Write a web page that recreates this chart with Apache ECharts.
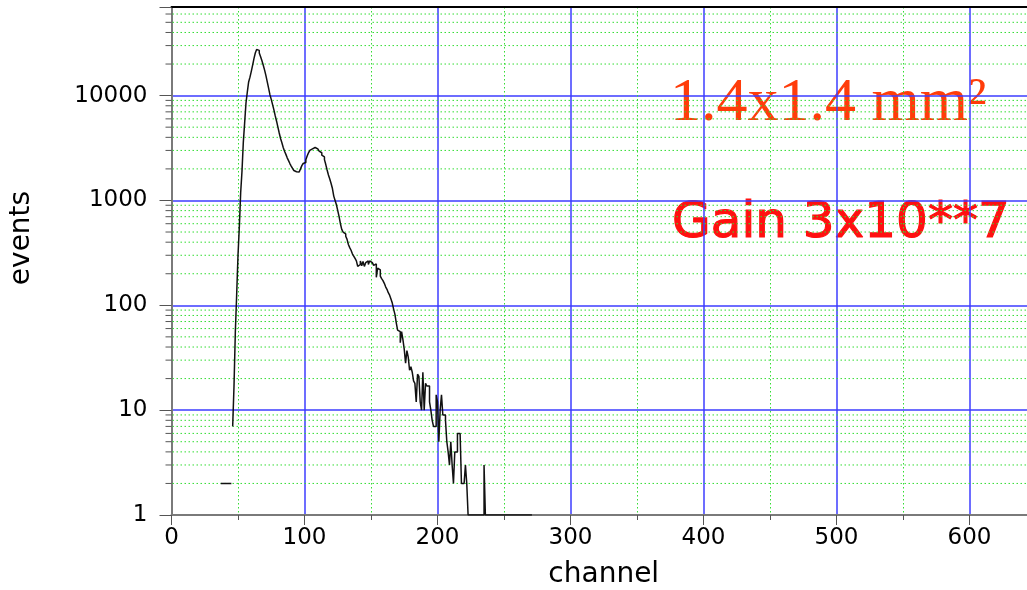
<!DOCTYPE html>
<html>
<head>
<meta charset="utf-8">
<script src="https://cdn.jsdelivr.net/npm/echarts@6/dist/echarts.min.js"></script>
<style>
  html, body { margin: 0; padding: 0; background: #fff; overflow: hidden; }
  #chart { width: 1027px; height: 590px; }
</style>
</head>
<body>
<div id="chart"></div>
<script>
// Pulse-height spectrum: counts per ADC channel (1 channel per bin)
const lowStart = 37;                 // isolated low-channel bins
const lowCounts = [2, 2, 2, 2, 2, 2, 2, 2];

const mainStart = 46;                // first bin of the main spectrum
const mainCounts = [
  7, 17, 56, 126, 300, 560, 1180, 1900, 3600, 5500,
  8500, 10800, 13500, 15000, 17000, 19500, 22500, 25500, 27500, 27000,
  25500, 23500, 21500, 19500, 17500, 15500, 13500, 11800, 10200, 9200,
  8200, 7300, 6400, 5700, 5000, 4400, 3900, 3550, 3200, 2950,
  2750, 2550, 2400, 2250, 2130, 2020, 1930, 1880, 1850, 1870,
  1900, 2000, 2150, 2250, 2300, 2450, 2650, 2850, 3000, 3100,
  3170, 3200, 3170, 3100, 3050, 2950, 2850, 2700, 2600, 2450,
  2200, 1950, 1750, 1600, 1450, 1300, 1100, 1000, 910, 800,
  700, 600, 530, 500, 480, 455, 425, 380, 355, 335,
  310, 295, 280, 265, 235, 245, 265, 238, 262, 235,
  255, 265, 245, 265, 255, 262, 240, 248, 185, 226,
  218, 190, 180, 172, 162, 150, 142, 132, 125, 115,
  105, 92, 82, 68, 58, 56, 44, 56, 47, 38,
  28, 37, 32, 24, 26, 23, 19, 18, 12, 22,
  21, 12, 10, 23, 10, 18, 17, 17, 12, 10,
  8, 7, 7, 14, 12, 5, 10, 14, 9, 9,
  8, 5, 4, 3, 5, 3, 2, 4, 4, 6,
  6, 6, 2, 2, 2, 3, 2, 1, 1, 1,
  1, 1, 1, 1, 1, 1, 1, 1, 1, 3,
  1, 1, 1, 1, 1, 1, 1, 1, 1, 1,
  1, 1, 1, 1, 1, 1, 1, 1, 1, 1,
  1, 1, 1, 1, 1, 1, 1, 1, 1, 1,
  1, 1, 1, 1, 1
];

const xTicks = [0, 100, 200, 300, 400, 500, 600];
const yTicks = [1, 10, 100, 1000, 10000];
// intermediate log-axis ticks (2..9 within each decade)
const yMinorTicks = [
  2, 3, 4, 5, 6, 7, 8, 9,
  20, 30, 40, 50, 60, 70, 80, 90,
  200, 300, 400, 500, 600, 700, 800, 900,
  2000, 3000, 4000, 5000, 6000, 7000, 8000, 9000,
  20000, 30000, 40000, 50000, 60000
];

const X_MIN = 0, X_MAX = 650, Y_MIN = 1, Y_MAX = 70000;

// step-histogram points: left edge of every bin, plus the right edge of the last bin
function histPoints(start, counts) {
  const pts = counts.map((c, i) => [start + i, c]);
  pts.push([start + counts.length, counts[counts.length - 1]]);
  return pts;
}

const chart = echarts.init(document.getElementById('chart'), null, { renderer: 'canvas' });

const AXIS_GRAY = '#7a7a7a';
const BLUE = '#3c3cff';
const GREEN = '#33dd33';
const LABEL_FONT = 'DejaVu Sans';

chart.setOption({
  animation: false,
  backgroundColor: '#ffffff',
  grid: {
    left: 171.5, right: -9, top: 7, bottom: 75,
    containLabel: false,
    outerBoundsMode: 'none'
  },
  xAxis: [{
    type: 'value',
    min: X_MIN, max: X_MAX, interval: 100,
    name: 'channel',
    nameLocation: 'middle',
    nameGap: 46,
    nameTextStyle: { fontFamily: LABEL_FONT, fontSize: 28, color: '#000' },
    axisLine: { show: true, onZero: false, lineStyle: { color: AXIS_GRAY, width: 2 } },
    axisTick: { show: true, length: 10, lineStyle: { color: '#555', width: 1 } },
    minorTick: { show: true, splitNumber: 2, length: 5, lineStyle: { color: '#555', width: 1 } },
    axisLabel: {
      margin: 12, color: '#000', fontFamily: LABEL_FONT, fontSize: 23,
      formatter: v => (xTicks.indexOf(v) >= 0 ? String(v) : '')
    },
    splitLine: { show: true, lineStyle: { color: BLUE, width: 1.5 } },
    minorSplitLine: { show: true, lineStyle: { color: GREEN, width: 1, type: [1.5, 2.5] } }
  }, {
    // upper frame line
    type: 'value', position: 'top',
    min: X_MIN, max: X_MAX,
    axisLine: { show: true, onZero: false, lineStyle: { color: '#000', width: 2 } },
    axisTick: { show: false }, axisLabel: { show: false }, splitLine: { show: false }
  }],
  yAxis: {
    type: 'log', logBase: 10,
    min: Y_MIN, max: Y_MAX,
    axisLine: { show: true, lineStyle: { color: AXIS_GRAY, width: 2 } },
    axisTick: { show: true, length: 12, lineStyle: { color: '#555', width: 1 } },
    axisLabel: {
      margin: 24, color: '#000', fontFamily: LABEL_FONT, fontSize: 23,
      formatter: v => (yTicks.indexOf(Math.round(v)) >= 0 ? String(Math.round(v)) : '')
    },
    splitLine: { show: true, lineStyle: { color: BLUE, width: 1.5 } }
  },
  series: [
    {
      // minor log ticks and dotted minor grid lines
      type: 'custom',
      silent: true,
      clip: false,
      z: 1,
      data: yMinorTicks.map(v => [X_MIN, v]),
      encode: { x: 0, y: 1 },
      renderItem: function (params, api) {
        const v = api.value(1);
        const a = api.coord([X_MIN, v]);
        const b = api.coord([X_MAX, v]);
        return {
          type: 'group',
          children: [
            { type: 'line', shape: { x1: a[0] + 1, y1: a[1], x2: b[0], y2: b[1] },
              style: { stroke: GREEN, lineWidth: 1, lineDash: [1.5, 2.5] } },
            { type: 'line', shape: { x1: a[0] - 6, y1: a[1], x2: a[0], y2: a[1] },
              style: { stroke: '#555', lineWidth: 1 } }
          ]
        };
      }
    },
    {
      type: 'line', step: 'end', symbol: 'none', z: 3,
      data: histPoints(lowStart, lowCounts),
      lineStyle: { color: '#111', width: 1.5 }
    },
    {
      type: 'line', step: 'end', symbol: 'none', z: 3,
      data: histPoints(mainStart, mainCounts),
      lineStyle: { color: '#111', width: 1.5 }
    }
  ],
  graphic: [
    {
      type: 'text', x: 22, y: 238, rotation: Math.PI / 2,
      style: { text: 'events', fill: '#000', font: '28px "DejaVu Sans"', align: 'center', verticalAlign: 'middle' }
    },
    {
      type: 'text', x: 670, y: 73,
      style: { text: '1.4x1.4 mm²', fill: '#ff3c0a', font: '62px "Liberation Serif"', align: 'left', verticalAlign: 'top' }
    },
    {
      type: 'text', x: 672, y: 199,
      style: {
        text: 'Gain 3x10**7', fill: '#ff1010', stroke: '#ff1010', lineWidth: 1.2,
        font: '50px "Comic Sans MS", "DejaVu Sans"', align: 'left', verticalAlign: 'top'
      }
    }
  ]
});
</script>
</body>
</html>
